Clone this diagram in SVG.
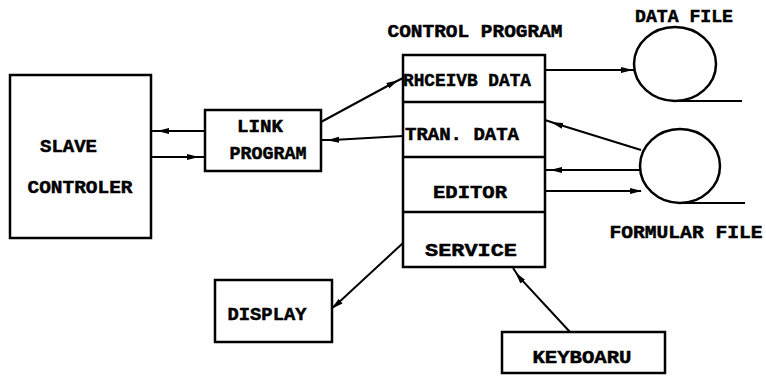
<svg xmlns="http://www.w3.org/2000/svg" width="766" height="377" viewBox="0 0 766 377">
<style>
.box{fill:#fff;stroke:#000;stroke-width:2.5}
.ln{fill:none;stroke:#000;stroke-width:2}
.t{font-family:"Liberation Mono","DejaVu Sans Mono",monospace;font-weight:bold;font-size:19px;fill:#000;stroke:#000;stroke-width:0.5;text-anchor:middle}
</style>
<defs>
<marker id="ah" markerUnits="userSpaceOnUse" markerWidth="14" markerHeight="8" refX="6" refY="4" orient="auto">
<path d="M0,1 L12,4 L0,7 Z" fill="#000"/>
</marker>
</defs>
<rect width="766" height="377" fill="#fff"/>
<g id="slave">
<rect class="box" x="10" y="75" width="141" height="163"/>
<text class="t" x="68.5" y="152" textLength="57" lengthAdjust="spacingAndGlyphs">SLAVE</text>
<text class="t" x="80" y="193" textLength="105" lengthAdjust="spacingAndGlyphs">CONTROLER</text>
</g>
<g id="link">
<rect class="box" x="205" y="110" width="116" height="61"/>
<text class="t" x="260" y="132" textLength="46" lengthAdjust="spacingAndGlyphs">LINK</text>
<text class="t" x="268" y="159" textLength="77" lengthAdjust="spacingAndGlyphs">PROGRAM</text>
</g>
<g id="control">
<text class="t" x="475" y="37" textLength="175" lengthAdjust="spacingAndGlyphs">CONTROL PROGRAM</text>
<rect class="box" x="403" y="55" width="142" height="212"/>
<line class="box" x1="403" y1="102" x2="545" y2="102"/>
<line class="box" x1="403" y1="157" x2="545" y2="157"/>
<line class="box" x1="403" y1="212" x2="545" y2="212"/>
<text class="t" x="467" y="86" textLength="128" lengthAdjust="spacingAndGlyphs">RHCEIVB DATA</text>
<text class="t" x="462" y="140" textLength="114" lengthAdjust="spacingAndGlyphs">TRAN. DATA</text>
<text class="t" x="470" y="198" textLength="74" lengthAdjust="spacingAndGlyphs">EDITOR</text>
<text class="t" x="471" y="256" textLength="92" lengthAdjust="spacingAndGlyphs">SERVICE</text>
</g>
<g id="datafile">
<text class="t" x="684" y="22" textLength="98" lengthAdjust="spacingAndGlyphs">DATA FILE</text>
<ellipse class="box" cx="675" cy="64" rx="41" ry="37"/>
<line class="ln" x1="676" y1="101" x2="742" y2="101"/>
</g>
<g id="formularfile">
<ellipse class="box" cx="680" cy="166" rx="40" ry="37"/>
<line class="ln" x1="680" y1="203" x2="745" y2="203"/>
<text class="t" x="686" y="238" textLength="153" lengthAdjust="spacingAndGlyphs">FORMULAR FILE</text>
</g>
<g id="display">
<rect class="box" x="215" y="280" width="117" height="62"/>
<text class="t" x="267" y="320" textLength="79" lengthAdjust="spacingAndGlyphs">DISPLAY</text>
</g>
<g id="keyboard">
<rect class="box" x="502" y="332" width="163" height="41"/>
<text class="t" x="582" y="363" textLength="99" lengthAdjust="spacingAndGlyphs">KEYBOARU</text>
</g>
<g id="connectors" class="ln" marker-mid="url(#ah)">
<polyline points="205,131 163,131 151,131"/>
<polyline points="151,157 193,157 205,157"/>
<polyline points="321,122 393,83 403,78"/>
<polyline points="403,136 333,140 321,140"/>
<polyline points="545,70 627,70 634,70"/>
<polyline points="641,150 557,124 545,120"/>
<polyline points="640,170 556,170 545,170"/>
<polyline points="545,191 636,191 641,191"/>
<polyline points="403,243 336,305 332,308"/>
<polyline points="570,332 519,277 513,268"/>
</g>
</svg>
